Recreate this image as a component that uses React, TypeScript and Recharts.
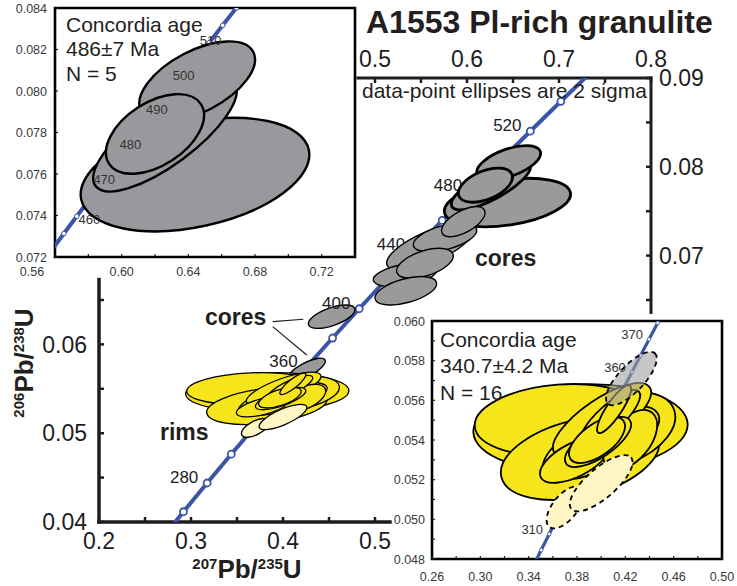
import {
  CartesianGrid,
  ComposedChart,
  Line,
  ReferenceArea,
  ReferenceLine,
  Scatter,
  XAxis,
  YAxis,
} from "recharts";

const FONT = '"Liberation Sans", Arial, Helvetica, sans-serif';
const INK = "#1d1d1f";
const BLUE = "#3b55a6";
const CORE_FILL = "#9a9a9a";
const OLD_FILL = "#98999c";
const RIM_FILL = "#f6e51a";
const PALE_FILL = "#fff6c4";

// concordia, 20 Ma steps (main plot)
const concAgesMain = [240, 260, 280, 300, 320, 340, 360, 380, 400, 420, 440, 460, 480, 500, 520, 540, 560];
const concXMain = [0.26664, 0.29183, 0.31753, 0.34374, 0.37047, 0.39773, 0.42553, 0.45389, 0.48281, 0.51231, 0.54239, 0.57307, 0.60437, 0.63628, 0.66884, 0.70202, 0.73588];
const concYMain = [0.037932, 0.041157, 0.044392, 0.047637, 0.050893, 0.054158, 0.057433, 0.060719, 0.064015, 0.067321, 0.070637, 0.073965, 0.077302, 0.08065, 0.084007, 0.087376, 0.090755];

// concordia, 5 Ma steps (old-core inset)
const concAgesOld = [450, 455, 460, 465, 470, 475, 480, 485, 490, 495, 500, 505, 510, 515, 520];
const concXOld = [0.55766, 0.56535, 0.57307, 0.58084, 0.58864, 0.59648, 0.60437, 0.61228, 0.62024, 0.62824, 0.63628, 0.64436, 0.65248, 0.66063, 0.66884];
const concYOld = [0.0723, 0.073132, 0.073965, 0.074798, 0.075632, 0.076467, 0.077302, 0.078138, 0.078975, 0.079812, 0.08065, 0.081488, 0.082327, 0.083168, 0.084007];

// concordia, 5 Ma steps (rim inset)
const concAgesYoung = [300, 305, 310, 315, 320, 325, 330, 335, 340, 345, 350, 355, 360, 365, 370, 375, 380];
const concXYoung = [0.34374, 0.35037, 0.35704, 0.36373, 0.37047, 0.37723, 0.38403, 0.39086, 0.39773, 0.40463, 0.41156, 0.41853, 0.42553, 0.43257, 0.43964, 0.44675, 0.45389];
const concYYoung = [0.047637, 0.04845, 0.049263, 0.050078, 0.050893, 0.051708, 0.052524, 0.05334, 0.054158, 0.054976, 0.055794, 0.056614, 0.057433, 0.058254, 0.059075, 0.059897, 0.060719];

// labelled ages
const mainAgesUnder = [280, 440, 480, 520];
const mainAgesOver = [360, 400];
const oldAges = [460, 470, 480, 490, 500, 510];
const youngAges = [310, 360, 370];

// 2-sigma ellipses: centre, half extent in x and y, error correlation
const coresOld = [
  { x: 0.644, y: 0.07597, ex: 0.0686, ey: 0.00273, rho: 0.35 },
  { x: 0.626, y: 0.07789, ex: 0.043, ey: 0.00273, rho: 0.77 },
  { x: 0.6453, y: 0.08046, ex: 0.0347, ey: 0.00193, rho: 0.55 },
  { x: 0.62, y: 0.07793, ex: 0.0294, ey: 0.00192, rho: 0.47 },
];
const coresYoung = [
  { x: 0.5598, y: 0.071, ex: 0.0471, ey: 0.00262, rho: 0.7 },
  { x: 0.5761, y: 0.07204, ex: 0.0345, ey: 0.0016, rho: 0.5 },
  { x: 0.596, y: 0.07382, ex: 0.0236, ey: 0.00169, rho: 0.6 },
  { x: 0.5326, y: 0.06782, ex: 0.0345, ey: 0.00132, rho: 0.4 },
  { x: 0.5543, y: 0.06913, ex: 0.0308, ey: 0.00169, rho: 0.5 },
  { x: 0.5335, y: 0.06604, ex: 0.0335, ey: 0.0016, rho: 0.5 },
  { x: 0.4529, y: 0.06312, ex: 0.0253, ey: 0.00132, rho: 0.6 },
];
const core360 = [{ x: 0.425, y: 0.0571, ex: 0.021, ey: 0.00135, rho: 0.75 }];
const rims = [
  { x: 0.3829, y: 0.0546, ex: 0.0887, ey: 0.00221, rho: 0.08 },
  { x: 0.3659, y: 0.05501, ex: 0.0705, ey: 0.00181, rho: 0.15 },
  { x: 0.3825, y: 0.05309, ex: 0.0655, ey: 0.00211, rho: 0.35 },
  { x: 0.4157, y: 0.0545, ex: 0.0456, ey: 0.00191, rho: 0.35 },
  { x: 0.3999, y: 0.05385, ex: 0.0481, ey: 0.00186, rho: 0.65 },
  { x: 0.4007, y: 0.05501, ex: 0.0406, ey: 0.00186, rho: 0.75 },
  { x: 0.3783, y: 0.053, ex: 0.029, ey: 0.00116, rho: 0.6 },
  { x: 0.424, y: 0.054, ex: 0.0224, ey: 0.00151, rho: 0.5 },
  { x: 0.4074, y: 0.05511, ex: 0.0249, ey: 0.00141, rho: 0.8 },
  { x: 0.3974, y: 0.0539, ex: 0.0274, ey: 0.00126, rho: 0.7 },
  { x: 0.3966, y: 0.054, ex: 0.0232, ey: 0.00116, rho: 0.6 },
  { x: 0.4107, y: 0.05556, ex: 0.0141, ey: 0.00121, rho: 0.85 },
];
const rimsPale = [
  { x: 0.37, y: 0.0506, ex: 0.0152, ey: 0.00106, rho: 0.6 },
  { x: 0.4, y: 0.05182, ex: 0.026, ey: 0.00142, rho: 0.75 },
];

// axis ticks and which of them carry labels
const mainBottomTicks = [0.2, 0.25, 0.3, 0.35, 0.4, 0.45, 0.5];
const mainBottomLabels = [0.2, 0.3, 0.4, 0.5];
const mainTopTicks = [0.5, 0.55, 0.6, 0.65, 0.7, 0.75, 0.8];
const mainTopLabels = [0.5, 0.6, 0.7, 0.8];
const mainLeftTicks = [0.04, 0.045, 0.05, 0.055, 0.06, 0.065];
const mainLeftLabels = [0.04, 0.05, 0.06];
const mainRightTicks = [0.065, 0.07, 0.075, 0.08, 0.085, 0.09];
const mainRightLabels = [0.07, 0.08, 0.09];
const oldXTicks = [0.56, 0.58, 0.6, 0.62, 0.64, 0.66, 0.68, 0.7, 0.72, 0.74];
const oldXLabels = [0.56, 0.6, 0.64, 0.68, 0.72];
const oldYTicks = [0.072, 0.074, 0.076, 0.078, 0.08, 0.082, 0.084];
const youngXTicks = [0.26, 0.28, 0.3, 0.32, 0.34, 0.36, 0.38, 0.4, 0.42, 0.44, 0.46, 0.48, 0.5];
const youngXLabels = [0.26, 0.3, 0.34, 0.38, 0.42, 0.46, 0.5];
const youngYTicks = [0.048, 0.049, 0.05, 0.051, 0.052, 0.053, 0.054, 0.055, 0.056, 0.057, 0.058, 0.059, 0.06];
const youngYLabels = [0.048, 0.05, 0.052, 0.054, 0.056, 0.058, 0.06];

const zip = (ages: number[], xs: number[], ys: number[]) =>
  ages.map((age, i) => ({ age, x: xs[i], y: ys[i] }));
const concMain = zip(concAgesMain, concXMain, concYMain);
const concOld = zip(concAgesOld, concXOld, concYOld);
const concYoung = zip(concAgesYoung, concXYoung, concYYoung);
const pick = (pts: { age: number }[], ages: number[]) => pts.filter((p) => ages.includes(p.age));

// layout
const MAIN = { w: 737, h: 586, left: 99, right: 86, top: 78, bottom: 64 };
const MAIN_X: [number, number] = [0.2, 0.8];
const MAIN_Y: [number, number] = [0.04, 0.09];
const OLD = { w: 360, h: 280, left: 55, right: 5, top: 8, bottom: 23 };
const OLD_X: [number, number] = [0.56, 0.74];
const OLD_Y: [number, number] = [0.072, 0.084];
const YOUNG = { w: 352, h: 274, left: 47, right: 15, top: 9, bottom: 27 };
const YOUNG_X: [number, number] = [0.26, 0.5];
const YOUNG_Y: [number, number] = [0.048, 0.06];

const pxPerUnit = (b: typeof MAIN, xd: [number, number], yd: [number, number]) => ({
  kx: (b.w - b.left - b.right) / (xd[1] - xd[0]),
  ky: (b.h - b.top - b.bottom) / (yd[1] - yd[0]),
});

const ellipseShape =
  (kx: number, ky: number, style: Record<string, any>) =>
  (p: any) => {
    const { cx, cy, payload } = p;
    if (cx == null || cy == null) return <g />;
    const hx = payload.ex * kx;
    const hy = payload.ey * ky;
    const a = hx * hx;
    const c = hy * hy;
    const b = -payload.rho * hx * hy;
    const m = (a + c) / 2;
    const d = Math.sqrt(((a - c) / 2) ** 2 + b * b);
    const rx = Math.sqrt(m + d);
    const ry = Math.sqrt(Math.max(m - d, 0.01));
    const ang = (0.5 * Math.atan2(2 * b, a - c) * 180) / Math.PI;
    return (
      <ellipse cx={cx} cy={cy} rx={rx} ry={ry} transform={`rotate(${ang} ${cx} ${cy})`} {...style} />
    );
  };

const ageText =
  (dx: number, dy: number, size: number, color: string, nudge: Record<number, [number, number]> = {}) =>
  (p: any) => {
    const { cx, cy, payload } = p;
    const [nx, ny] = nudge[payload.age] ?? [0, 0];
    return (
      <text x={cx + dx + nx} y={cy + dy + ny} textAnchor="middle" fontSize={size} fill={color} fontFamily={FONT}>
        {payload.age}
      </text>
    );
  };

type Side = "bottom" | "top" | "left" | "right";
interface TickStyle {
  len: number;
  width: number;
  size: number;
  gap: number;
  digits: number;
  color: string;
  nudge?: Record<string, number>;
}

const makeTick = (side: Side, labels: number[], s: TickStyle) => (p: any) => {
  const { x, y, payload } = p;
  const v = Number(payload.value);
  const show = labels.some((l) => Math.abs(l - v) < 1e-9);
  const txt = v.toFixed(s.digits);
  const horiz = side === "bottom" || side === "top";
  const dir = side === "bottom" || side === "right" ? 1 : -1;
  const nudge = s.nudge?.[txt] ?? 0;
  return (
    <g>
      {horiz ? (
        <line x1={x} y1={y} x2={x} y2={y - dir * s.len} stroke={INK} strokeWidth={s.width} />
      ) : (
        <line x1={x} y1={y} x2={x - dir * s.len} y2={y} stroke={INK} strokeWidth={s.width} />
      )}
      {show &&
        (horiz ? (
          <text x={x + nudge} y={y + dir * s.gap} textAnchor="middle" fontSize={s.size} fill={s.color} fontFamily={FONT}>
            {txt}
          </text>
        ) : (
          <text
            x={x + dir * s.gap}
            y={y + s.size * 0.36}
            textAnchor={side === "left" ? "end" : "start"}
            fontSize={s.size}
            fill={s.color}
            fontFamily={FONT}
          >
            {txt}
          </text>
        ))}
    </g>
  );
};

const axisBase = {
  type: "number" as const,
  allowDataOverflow: true,
  tickLine: false,
  axisLine: false,
  tickSize: 0,
  tickMargin: 0,
  interval: 0 as const,
};

function MainChart() {
  const { kx, ky } = pxPerUnit(MAIN, MAIN_X, MAIN_Y);
  const mainTick = { len: 5, width: 2.5, size: 23, color: INK };
  const axis = { stroke: INK, strokeWidth: 3.5, strokeLinecap: "square" as const, ifOverflow: "visible" as const };
  const ids = { xAxisId: "b", yAxisId: "l" };
  return (
    <ComposedChart width={MAIN.w} height={MAIN.h} margin={{ top: 0, right: 0, bottom: 0, left: 0 }}>
      <XAxis {...axisBase} xAxisId="b" dataKey="x" orientation="bottom" height={MAIN.bottom} domain={MAIN_X}
        ticks={mainBottomTicks} tick={makeTick("bottom", mainBottomLabels, { ...mainTick, gap: 27, digits: 1 })} />
      <XAxis {...axisBase} xAxisId="t" dataKey="x" orientation="top" height={MAIN.top} domain={MAIN_X}
        ticks={mainTopTicks} tick={makeTick("top", mainTopLabels, { ...mainTick, gap: 11, digits: 1 })} />
      <YAxis {...axisBase} yAxisId="l" dataKey="y" orientation="left" width={MAIN.left} domain={MAIN_Y}
        ticks={mainLeftTicks} tick={makeTick("left", mainLeftLabels, { ...mainTick, gap: 12, digits: 2 })} />
      <YAxis {...axisBase} yAxisId="r" dataKey="y" orientation="right" width={MAIN.right} domain={MAIN_Y}
        ticks={mainRightTicks} tick={makeTick("right", mainRightLabels, { ...mainTick, gap: 8, digits: 2 })} />

      <ReferenceLine {...ids} {...axis} segment={[{ x: 0.2, y: 0.04 }, { x: 0.2, y: 0.0673 }]} />
      <ReferenceLine {...ids} {...axis} segment={[{ x: 0.2, y: 0.04 }, { x: 0.5163, y: 0.04 }]} />
      <ReferenceLine {...ids} {...axis} strokeWidth={3} segment={[{ x: 0.4815, y: 0.09 }, { x: 0.8, y: 0.09 }]} />
      <ReferenceLine {...ids} {...axis} strokeWidth={3} segment={[{ x: 0.8, y: 0.0636 }, { x: 0.8, y: 0.09 }]} />
      <ReferenceLine {...ids} stroke={INK} strokeWidth={1.2} ifOverflow="visible"
        segment={[{ x: 0.3888, y: 0.06256 }, { x: 0.4221, y: 0.06283 }]} />
      <ReferenceLine {...ids} stroke={INK} strokeWidth={1.2} ifOverflow="visible"
        segment={[{ x: 0.3888, y: 0.062 }, { x: 0.4258, y: 0.0588 }]} />

      <Line {...ids} data={concMain} dataKey="y" stroke={BLUE} strokeWidth={4} isAnimationActive={false}
        dot={{ r: 3.5, fill: "#fff", stroke: BLUE, strokeWidth: 1.8 }} activeDot={false} />
      <Scatter {...ids} data={pick(concMain, mainAgesUnder)} isAnimationActive={false} shape={ageText(-23, 0, 17, INK)} />
      <Scatter {...ids} data={coresOld} isAnimationActive={false}
        shape={ellipseShape(kx, ky, { fill: CORE_FILL, stroke: "#000", strokeWidth: 2.8 })} />
      <Scatter {...ids} data={coresYoung} isAnimationActive={false}
        shape={ellipseShape(kx, ky, { fill: CORE_FILL, stroke: "#000", strokeWidth: 1.4 })} />
      <Scatter {...ids} data={core360} isAnimationActive={false}
        shape={ellipseShape(kx, ky, { fill: CORE_FILL, stroke: "#000", strokeWidth: 1.4 })} />
      <Scatter {...ids} data={rims} isAnimationActive={false}
        shape={ellipseShape(kx, ky, { fill: RIM_FILL, stroke: "#000", strokeWidth: 1.3 })} />
      <Scatter {...ids} data={rimsPale} isAnimationActive={false}
        shape={ellipseShape(kx, ky, { fill: PALE_FILL, stroke: "#000", strokeWidth: 1.3 })} />
      <Scatter {...ids} data={pick(concMain, mainAgesOver)} isAnimationActive={false} shape={ageText(-23, 0, 17, INK)} />
    </ComposedChart>
  );
}

function OldInset() {
  const { kx, ky } = pxPerUnit(OLD, OLD_X, OLD_Y);
  const t = { len: 3, width: 1.2, size: 12.5, color: "#3a3a3a" };
  return (
    <ComposedChart width={OLD.w} height={OLD.h} margin={{ top: OLD.top, right: OLD.right, bottom: 0, left: 0 }}>
      <CartesianGrid fill="#fff" horizontal={false} vertical={false} />
      <XAxis {...axisBase} dataKey="x" height={OLD.bottom} domain={OLD_X} ticks={oldXTicks}
        tick={makeTick("bottom", oldXLabels, { ...t, gap: 19, digits: 2, nudge: { "0.56": -23 } })} />
      <YAxis {...axisBase} dataKey="y" width={OLD.left} domain={OLD_Y} ticks={oldYTicks}
        tick={makeTick("left", oldYTicks, { ...t, gap: 8, digits: 3 })} />
      <Line data={concOld} dataKey="y" stroke={BLUE} strokeWidth={4} isAnimationActive={false}
        dot={{ r: 2.3, fill: "#fff", stroke: BLUE, strokeWidth: 1 }} activeDot={false} />
      <Scatter data={coresOld} isAnimationActive={false}
        shape={ellipseShape(kx, ky, { fill: OLD_FILL, stroke: "#000", strokeWidth: 2.4 })} />
      <Scatter data={pick(concOld, oldAges)} isAnimationActive={false}
        shape={ageText(1.5, 2, 13, "#333", { 460: [11, 6] })} />
      <ReferenceArea x1={OLD_X[0]} x2={OLD_X[1]} y1={OLD_Y[0]} y2={OLD_Y[1]} fill="none" stroke="#000"
        strokeWidth={2.6} ifOverflow="visible" />
    </ComposedChart>
  );
}

function YoungInset() {
  const { kx, ky } = pxPerUnit(YOUNG, YOUNG_X, YOUNG_Y);
  const t = { len: 3, width: 1.2, size: 12.5, color: "#3a3a3a" };
  return (
    <ComposedChart width={YOUNG.w} height={YOUNG.h} margin={{ top: YOUNG.top, right: YOUNG.right, bottom: 0, left: 0 }}>
      <CartesianGrid fill="#fff" horizontal={false} vertical={false} />
      <XAxis {...axisBase} dataKey="x" height={YOUNG.bottom} domain={YOUNG_X} ticks={youngXTicks}
        tick={makeTick("bottom", youngXLabels, { ...t, gap: 21.5, digits: 2 })} />
      <YAxis {...axisBase} dataKey="y" width={YOUNG.left} domain={YOUNG_Y} ticks={youngYTicks}
        tick={makeTick("left", youngYLabels, { ...t, gap: 7, digits: 3 })} />
      <Line data={concYoung} dataKey="y" stroke={BLUE} strokeWidth={3.2} isAnimationActive={false}
        dot={{ r: 1.8, fill: "#fff", stroke: BLUE, strokeWidth: 0.8 }} activeDot={false} />
      <Scatter data={rims} isAnimationActive={false}
        shape={ellipseShape(kx, ky, { fill: RIM_FILL, stroke: "#000", strokeWidth: 1.8 })} />
      <Scatter data={rimsPale} isAnimationActive={false}
        shape={ellipseShape(kx, ky, { fill: PALE_FILL, stroke: "#000", strokeWidth: 1.8, strokeDasharray: "5 4" })} />
      <Scatter data={core360} isAnimationActive={false}
        shape={ellipseShape(kx, ky, {
          fill: "#a2a2a2",
          fillOpacity: 0.6,
          stroke: "#000",
          strokeWidth: 1.8,
          strokeDasharray: "5 4",
        })} />
      <Scatter data={pick(concYoung, youngAges)} isAnimationActive={false} shape={ageText(-17, 0, 13, "#333")} />
      <ReferenceArea x1={YOUNG_X[0]} x2={YOUNG_X[1]} y1={YOUNG_Y[0]} y2={YOUNG_Y[1]} fill="none" stroke="#000"
        strokeWidth={2.6} ifOverflow="visible" />
    </ComposedChart>
  );
}

function Annotations() {
  const big = { fontFamily: FONT, fill: "#231f20" };
  return (
    <svg width={737} height={586} style={{ position: "absolute", left: 0, top: 0, pointerEvents: "none" }}>
      <text x={366} y={33} fontSize={32} fontWeight={700} {...big}>A1553 Pl-rich granulite</text>
      <text x={362} y={98} fontSize={21} {...big}>data-point ellipses are 2 sigma</text>
      <text x={475} y={266} fontSize={23} fontWeight={700} {...big}>cores</text>
      <text x={205} y={325} fontSize={23} fontWeight={700} {...big}>cores</text>
      <text x={160} y={440} fontSize={23} fontWeight={700} {...big}>rims</text>

      <text x={66} y={31.5} fontSize={21} {...big}>Concordia age</text>
      <text x={66} y={56} fontSize={21} {...big}>486±7 Ma</text>
      <text x={66} y={81} fontSize={21} {...big}>N = 5</text>

      <text x={440} y={346.5} fontSize={21} {...big}>Concordia age</text>
      <text x={440} y={373} fontSize={21} {...big}>340.7±4.2 Ma</text>
      <text x={440} y={399.5} fontSize={21} {...big}>N = 16</text>

      <text x={247} y={578} textAnchor="middle" fontWeight={700} {...big}>
        <tspan fontSize={15} dy={-9}>207</tspan>
        <tspan fontSize={26} dy={9}>Pb/</tspan>
        <tspan fontSize={15} dy={-9}>235</tspan>
        <tspan fontSize={26} dy={9}>U</tspan>
      </text>
      <text transform="translate(33 363) rotate(-90)" textAnchor="middle" fontWeight={700} {...big}>
        <tspan fontSize={15} dy={-9}>206</tspan>
        <tspan fontSize={26} dy={9}>Pb/</tspan>
        <tspan fontSize={15} dy={-9}>238</tspan>
        <tspan fontSize={26} dy={9}>U</tspan>
      </text>
    </svg>
  );
}

export default function App() {
  return (
    <div style={{ position: "absolute", left: 0, top: 0, width: 737, height: 586, background: "#fff", fontFamily: FONT }}>
      <div style={{ position: "absolute", left: 0, top: 0 }}>
        <MainChart />
      </div>
      <div style={{ position: "absolute", left: 0, top: 0 }}>
        <OldInset />
      </div>
      <div style={{ position: "absolute", left: 385, top: 312 }}>
        <YoungInset />
      </div>
      <Annotations />
    </div>
  );
}
